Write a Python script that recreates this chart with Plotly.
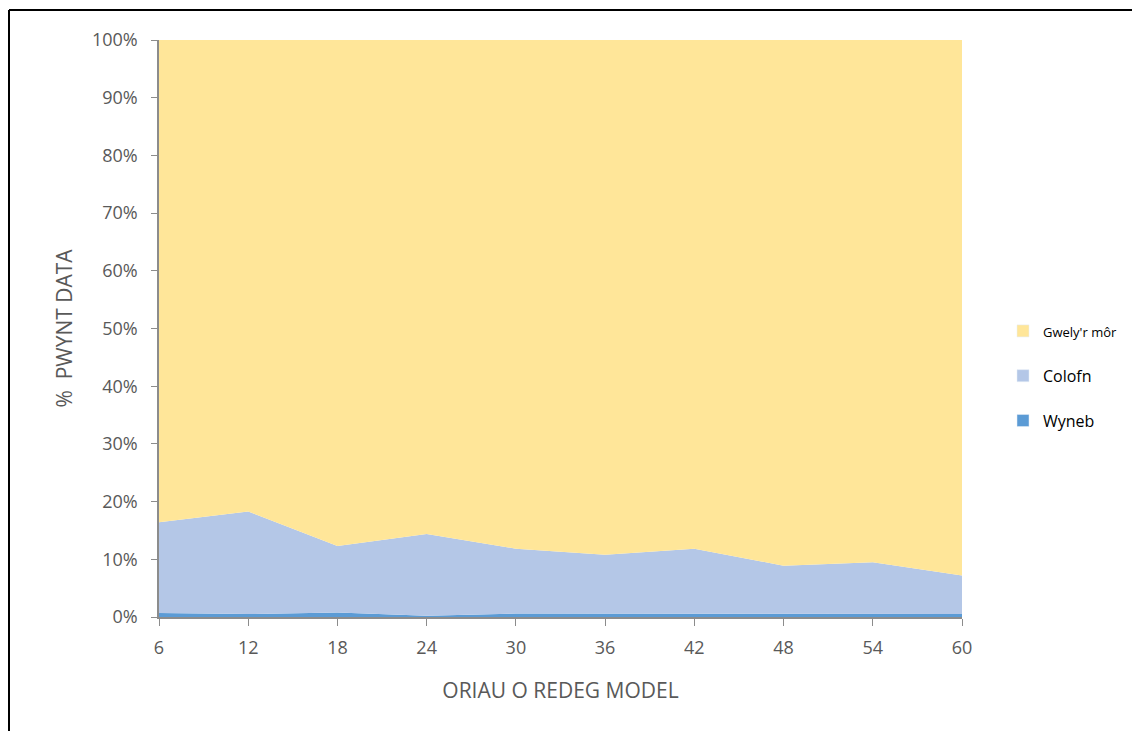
import plotly.graph_objects as go

hours = [6, 12, 18, 24, 30, 36, 42, 48, 54, 60]
wyneb = [0.7, 0.5, 0.8, 0.2, 0.6, 0.6, 0.5, 0.6, 0.6, 0.5]
colofn = [15.7, 17.8, 11.5, 14.2, 11.25, 10.2, 11.35, 8.3, 8.9, 6.7]
gwely = [83.6, 81.7, 87.7, 85.6, 88.15, 89.2, 88.15, 91.1, 90.5, 92.8]
tick_vals = [0, 10, 20, 30, 40, 50, 60, 70, 80, 90, 100]
tick_text = [f"{v}%" for v in tick_vals]

series = [
    ("Wyneb", wyneb, "#5B9BD5", 16, 3),
    ("Colofn", colofn, "#B4C7E7", 16, 2),
    ("Gwely'r môr", gwely, "#FFE699", 13, 1),
]

fig = go.Figure()
for name, vals, col, fs, rank in series:
    fig.add_trace(go.Scatter(
        x=hours, y=vals, name=name, mode="lines",
        line=dict(width=0, color=col), fillcolor=col,
        stackgroup="one", groupnorm="percent", legendgroup=name,
        showlegend=False,
    ))
    # square legend swatch
    fig.add_trace(go.Bar(x=[None], y=[None], marker_color=col, legendgroup=name,
                         name=f'<span style="font-size:{fs}px">{name}</span>',
                         legendrank=rank, showlegend=True))

grey = "#595959"
axis_col = "#8C8C8C"
fig.update_layout(
    width=1132, height=731, autosize=False,
    margin=dict(l=159, r=170, t=40, b=114),
    paper_bgcolor="white", plot_bgcolor="white",
    font=dict(family="Open Sans, Liberation Sans, sans-serif", color=grey),
    showlegend=True,
    legend=dict(
        traceorder="grouped", xref="container", yref="container",
        x=1003 / 1132, xanchor="left", y=1 - 376 / 731, yanchor="middle",
        font=dict(size=16, color="black"), tracegroupgap=21,
        itemwidth=30,
    ),
    xaxis=dict(
        range=[6, 60], tickvals=hours, showgrid=False, zeroline=False,
        showline=True, linecolor=axis_col, linewidth=2,
        ticks="outside", ticklen=7, tickcolor=axis_col,
        tickfont=dict(size=18, color=grey), ticklabelstandoff=6,
        title=dict(text="ORIAU O REDEG MODEL", font=dict(size=21, color=grey), standoff=26),
    ),
    yaxis=dict(
        range=[0, 100], tickvals=tick_vals, ticktext=tick_text, showgrid=False, zeroline=False,
        showline=True, linecolor=axis_col, linewidth=1.5,
        ticks="outside", ticklen=6, tickcolor=axis_col,
        tickfont=dict(size=18, color=grey), ticklabelstandoff=10,
        title=dict(text="%  PWYNT DATA", font=dict(size=21, color=grey), standoff=14),
    ),
)

# outer frame (top and left edges, running off the page)
x_left = (9 - 159) / 803
y_top = (617 - 10) / 577
fig.add_shape(type="line", xref="paper", yref="paper", x0=x_left, x1=1.25, y0=y_top, y1=y_top,
              line=dict(color="black", width=2))
fig.add_shape(type="line", xref="paper", yref="paper", x0=x_left, x1=x_left, y0=y_top, y1=-0.25,
              line=dict(color="black", width=2))

fig.write_html("out.html", config={"responsive": False, "displayModeBar": False},
               default_width="1132px", default_height="731px",
               post_script="document.body.style.margin='0';document.body.style.overflow='hidden';")
